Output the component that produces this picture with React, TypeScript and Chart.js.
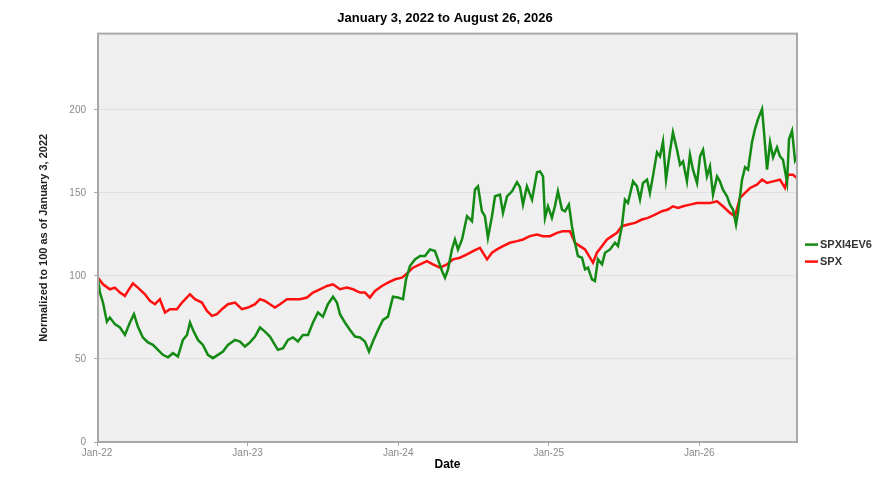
import { useEffect, useRef } from "react"
import { Chart, registerables } from "chart.js"

Chart.register(...registerables)

// decimal years (Jan 3, 2022 = 2022.006) and values normalized to 100
const greenDates = [
  2022.006, 2022.019, 2022.039, 2022.065, 2022.085, 2022.118, 2022.152, 2022.185, 2022.218, 2022.245,
  2022.271, 2022.304, 2022.338, 2022.371, 2022.404, 2022.437, 2022.471, 2022.504, 2022.537, 2022.57,
  2022.597, 2022.617, 2022.637, 2022.67, 2022.703, 2022.736, 2022.769, 2022.803, 2022.836, 2022.869,
  2022.916, 2022.949, 2022.982, 2023.015, 2023.049, 2023.082, 2023.115, 2023.148, 2023.181, 2023.201,
  2023.235, 2023.268, 2023.301, 2023.334, 2023.367, 2023.401, 2023.434, 2023.467, 2023.5, 2023.533,
  2023.567, 2023.593, 2023.613, 2023.646, 2023.68, 2023.713, 2023.746, 2023.779, 2023.806, 2023.832,
  2023.866, 2023.899, 2023.932, 2023.965, 2023.998, 2024.032, 2024.052, 2024.078, 2024.111, 2024.145,
  2024.178, 2024.211, 2024.244, 2024.264, 2024.291, 2024.311, 2024.331, 2024.357, 2024.377, 2024.397,
  2024.424, 2024.457, 2024.49, 2024.51, 2024.53, 2024.556, 2024.576, 2024.596, 2024.623, 2024.643,
  2024.676, 2024.696, 2024.723, 2024.756, 2024.789, 2024.809, 2024.829, 2024.855, 2024.889, 2024.922,
  2024.942, 2024.962, 2024.975, 2024.995, 2025.021, 2025.041, 2025.061, 2025.088, 2025.108, 2025.134,
  2025.154, 2025.174, 2025.194, 2025.221, 2025.241, 2025.261, 2025.287, 2025.307, 2025.327, 2025.354,
  2025.374, 2025.407, 2025.44, 2025.46, 2025.486, 2025.506, 2025.526, 2025.56, 2025.586, 2025.606,
  2025.626, 2025.653, 2025.672, 2025.692, 2025.719, 2025.739, 2025.759, 2025.779, 2025.805, 2025.825,
  2025.852, 2025.872, 2025.892, 2025.918, 2025.938, 2025.958, 2025.985, 2026.005, 2026.025, 2026.051,
  2026.071, 2026.091, 2026.118, 2026.137, 2026.157, 2026.184, 2026.204, 2026.224, 2026.244, 2026.257,
  2026.284, 2026.304, 2026.324, 2026.35, 2026.37, 2026.39, 2026.417, 2026.43, 2026.45, 2026.47,
  2026.49, 2026.516, 2026.536, 2026.556, 2026.583, 2026.596, 2026.616, 2026.636, 2026.649,
]
const greenValues = [
  98, 90, 84, 72.5, 75, 71, 69, 64.5, 72, 77,
  69.5, 63, 60, 58.5, 55.5, 52.5, 51, 53.5, 51.5, 61.5,
  64.5, 72, 67.5, 61.5, 58.5, 52.5, 50.5, 52.5, 54.5, 58.5,
  61.5, 60.5, 57.5, 60, 63.5, 69, 66.5, 63.5, 58.5, 55.5,
  56.5, 61.5, 63, 60.5, 64.5, 64.5, 72, 78, 75.5, 83,
  87.5, 84, 77, 72, 67.5, 63.5, 63, 60.5, 54.5, 60.5,
  67.5, 73.5, 75.5, 87.5, 87, 86, 98, 106, 110, 112,
  112, 116, 115, 110, 103, 99, 104, 116, 122, 116,
  122, 136, 133, 152, 154, 139, 136, 123, 136, 148,
  149, 138, 148, 151, 156.5, 153.5, 143, 154, 146, 162.5,
  163, 160, 135, 142, 135, 142, 151, 140, 139, 143,
  130, 120, 112, 111, 104, 105, 98, 97, 110, 107,
  114, 116, 120, 118, 130, 146, 144, 157, 154, 146,
  156, 158, 150, 160, 174.5, 172, 181, 158, 175, 186.5,
  176, 167, 169, 157, 173, 164, 156, 172, 176, 160,
  166, 149, 160, 157, 152, 148, 143, 140, 131, 138,
  158, 165.5, 164, 180.5, 188.5, 194.5, 200.5, 186.5, 164, 180.5,
  171.5, 177.5, 172, 170, 156.5, 182.5, 187.5, 169.5, 171.5,
]

const redDates = [
  2022.006, 2022.039, 2022.085, 2022.118, 2022.152, 2022.185, 2022.205, 2022.238, 2022.271, 2022.318,
  2022.351, 2022.384, 2022.417, 2022.451, 2022.484, 2022.53, 2022.564, 2022.617, 2022.65, 2022.696,
  2022.73, 2022.763, 2022.796, 2022.829, 2022.869, 2022.916, 2022.962, 2023.002, 2023.049, 2023.082,
  2023.115, 2023.148, 2023.181, 2023.215, 2023.261, 2023.301, 2023.347, 2023.394, 2023.434, 2023.48,
  2023.527, 2023.567, 2023.613, 2023.66, 2023.7, 2023.746, 2023.779, 2023.812, 2023.846, 2023.892,
  2023.932, 2023.979, 2024.025, 2024.065, 2024.098, 2024.145, 2024.191, 2024.231, 2024.277, 2024.324,
  2024.364, 2024.41, 2024.457, 2024.497, 2024.543, 2024.59, 2024.623, 2024.656, 2024.696, 2024.742,
  2024.789, 2024.829, 2024.875, 2024.922, 2024.962, 2025.008, 2025.055, 2025.095, 2025.141, 2025.174,
  2025.207, 2025.241, 2025.274, 2025.294, 2025.32, 2025.354, 2025.387, 2025.42, 2025.453, 2025.486,
  2025.526, 2025.573, 2025.619, 2025.659, 2025.706, 2025.752, 2025.792, 2025.825, 2025.859, 2025.892,
  2025.938, 2025.985, 2026.025, 2026.071, 2026.118, 2026.157, 2026.204, 2026.237, 2026.27, 2026.304,
  2026.337, 2026.383, 2026.417, 2026.45, 2026.49, 2026.536, 2026.569, 2026.589, 2026.623, 2026.649,
]
const redValues = [
  99, 95, 92, 93, 90, 88, 91, 95.5, 93, 89,
  85, 83, 86, 78, 80, 80, 84, 89, 86, 84,
  79, 76, 77, 80, 83, 84, 80, 81, 83, 86,
  85, 83, 81, 83, 86, 86, 86, 87, 90, 92,
  94, 95, 92, 93, 92, 90, 90, 87, 91, 94,
  96, 98, 99, 102, 105, 107, 109, 107, 105, 107,
  110, 111, 113, 115, 117, 110, 114, 116, 118, 120,
  121, 122, 124, 125, 124, 124, 126, 127, 127, 120,
  118, 116, 111, 108, 114, 118, 122, 124, 126, 130,
  131, 132, 134, 135, 137, 139, 140, 142, 141, 142,
  143, 144, 144, 144, 145, 142, 138, 136, 147, 150,
  153, 155, 158, 156, 157, 158, 153, 161, 161, 159,
]

const yearTicks = [2022, 2023, 2024, 2025, 2026]
const valueTicks = [0, 50, 100, 150, 200]
const seriesNames = ["SPXI4EV6", "SPX"]
const seriesColors = ["#138a13", "#ff1010"]

const FONT = "'Liberation Sans', Arial, Helvetica, sans-serif"

const plotFrame = {
  id: "plotFrame",
  beforeDraw(chart: Chart) {
    const { ctx, chartArea: a } = chart
    ctx.save()
    ctx.fillStyle = "#efefef"
    ctx.fillRect(a.left, a.top, a.right - a.left, a.bottom - a.top)
    ctx.restore()
  },
  afterDraw(chart: Chart) {
    const { ctx, chartArea: a } = chart
    ctx.save()
    ctx.strokeStyle = "#a8a8a8"
    ctx.lineWidth = 2
    ctx.strokeRect(a.left, a.top, a.right - a.left, a.bottom - a.top)

    // legend on the right
    ctx.font = `bold 11px ${FONT}`
    ctx.textBaseline = "middle"
    seriesNames.forEach((name, i) => {
      const y = a.top + 211 + i * 17
      ctx.strokeStyle = seriesColors[i]
      ctx.lineWidth = 2.5
      ctx.beginPath()
      ctx.moveTo(a.right + 8, y)
      ctx.lineTo(a.right + 21, y)
      ctx.stroke()
      ctx.fillStyle = "#333333"
      ctx.fillText(name, a.right + 23, y + 0.5)
    })
    ctx.restore()
  },
}

export default function App() {
  const chartRef = useRef<HTMLCanvasElement>(null)
  const chartInstance = useRef<Chart | null>(null)

  useEffect(() => {
    document.body.style.margin = "0"
    if (!chartRef.current) return
    const ctx = chartRef.current.getContext("2d")
    if (!ctx) return

    if (chartInstance.current) {
      chartInstance.current.destroy()
    }

    const toPoints = (xs: number[], ys: number[]) => xs.map((x, i) => ({ x, y: ys[i] }))

    chartInstance.current = new Chart(ctx, {
      type: "line",
      data: {
        datasets: [
          {
            label: seriesNames[0],
            data: toPoints(greenDates, greenValues),
            borderColor: seriesColors[0],
            borderWidth: 2.5,
            pointRadius: 0,
            tension: 0,
          },
          {
            label: seriesNames[1],
            data: toPoints(redDates, redValues),
            borderColor: seriesColors[1],
            borderWidth: 2.5,
            pointRadius: 0,
            tension: 0,
          },
        ],
      },
      options: {
        animation: false,
        responsive: true,
        maintainAspectRatio: false,
        layout: { padding: 0 },
        plugins: {
          legend: { display: false },
          tooltip: { enabled: false },
          title: {
            display: true,
            text: "January 3, 2022 to August 26, 2026",
            color: "#000000",
            font: { family: FONT, size: 13, weight: "bold" },
            padding: { top: 11, bottom: 7 },
          },
        },
        scales: {
          x: {
            type: "linear",
            min: 2022.006,
            max: 2026.649,
            afterBuildTicks: (scale) => {
              scale.ticks = yearTicks.map((v) => ({ value: v }))
            },
            afterFit: (scale) => {
              scale.height = 40
            },
            ticks: {
              color: "#8a8a8a",
              font: { family: FONT, size: 10 },
              padding: 1,
              maxRotation: 0,
              autoSkip: false,
              callback: (v) => "Jan-" + String(v).slice(2, 4),
            },
            grid: {
              display: true,
              drawOnChartArea: false,
              tickLength: 4,
              tickColor: "#a8a8a8",
            },
            border: { display: false },
            title: {
              display: true,
              text: "Date",
              color: "#000000",
              font: { family: FONT, size: 12, weight: "bold" },
              padding: { top: 0, bottom: 10 },
            },
          },
          y: {
            min: 0,
            max: 246,
            afterBuildTicks: (scale) => {
              scale.ticks = valueTicks.map((v) => ({ value: v }))
            },
            afterFit: (scale) => {
              scale.width = 98
            },
            ticks: {
              color: "#8a8a8a",
              font: { family: FONT, size: 10 },
              padding: 8,
            },
            grid: {
              color: "#e0e0e0",
              lineWidth: 1,
              tickLength: 4,
              tickColor: "#a8a8a8",
            },
            border: { display: false },
            title: {
              display: true,
              text: "Normalized to 100 as of January 3, 2022",
              color: "#222222",
              font: { family: FONT, size: 11, weight: "bold" },
              padding: { top: 37, bottom: 0 },
            },
          },
          // empty right-hand box that keeps room for the legend
          legendSpace: {
            type: "linear",
            position: "right",
            display: true,
            ticks: { display: false },
            grid: { display: false },
            border: { display: false },
            afterFit: (scale) => {
              scale.width = 93
            },
          },
        },
      },
      plugins: [plotFrame],
    })

    return () => {
      if (chartInstance.current) {
        chartInstance.current.destroy()
        chartInstance.current = null
      }
    }
  }, [])

  return (
    <div style={{ width: 890, height: 482, position: "relative" }}>
      <canvas ref={chartRef} />
    </div>
  )
}
